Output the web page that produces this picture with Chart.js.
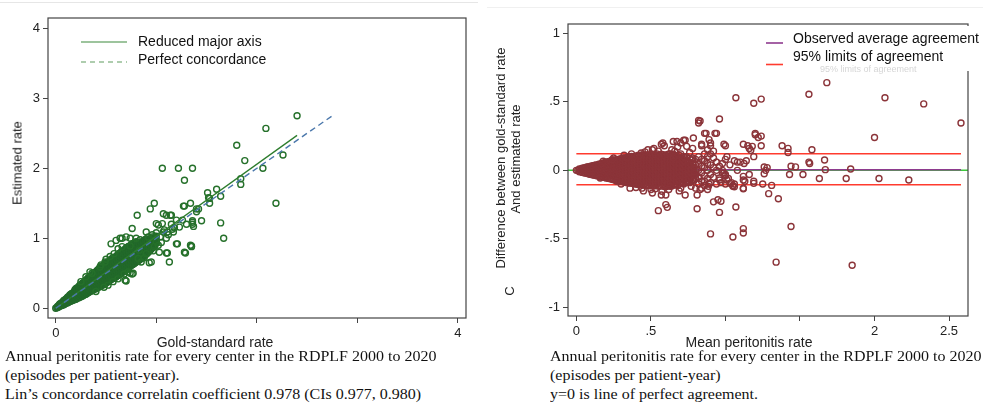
<!DOCTYPE html>
<html>
<head>
<meta charset="utf-8">
<script src="https://cdn.jsdelivr.net/npm/chart.js@4.4.0/dist/chart.umd.min.js"></script>
<style>
  body { margin:0; width:983px; height:403px; background:#fff; position:relative; overflow:hidden; font-family:"Liberation Sans", Arial, sans-serif; }
  canvas { position:absolute; top:0; }
  #leftChart { left:0; }
  #rightChart { left:480px; }
  .lbl { position:absolute; white-space:nowrap; color:#222; font-size:14px; transform:translate(-50%,-50%); }
  .rot { font-size:13px; transform:translate(-50%,-50%) rotate(-90deg); }
  .cap { position:absolute; white-space:nowrap; font-family:"Liberation Serif","Times New Roman",serif; font-size:16px; line-height:18px; color:#111; transform-origin:left center; transform:scaleY(.85); }
  .faint { position:absolute; background:#e6e6e6; }
</style>
</head>
<body>
<div class="faint" style="left:0;top:2px;width:478px;height:1px"></div>
<div class="faint" style="left:487px;top:7px;width:496px;height:1px;background:#f0f0f0"></div>
<canvas id="leftChart" width="480" height="350"></canvas>
<canvas id="rightChart" width="503" height="350"></canvas>

<div class="lbl rot" style="left:17px;top:163px">Estimated rate</div>
<div class="lbl" style="left:215px;top:342px">Gold-standard rate</div>
<div class="lbl rot" style="left:500px;top:158px">Difference between gold-standard rate</div>
<div class="lbl rot" style="left:515px;top:159px">And estimated rate</div>
<div class="lbl rot" style="left:509px;top:291px">C</div>
<div class="lbl" style="left:749px;top:342px">Mean peritonitis rate</div>

<div class="cap" style="left:5px;top:348px">Annual peritonitis rate for every center in the RDPLF 2000 to 2020</div>
<div class="cap" style="left:5px;top:367px">(episodes per patient-year).</div>
<div class="cap" style="left:5px;top:386px">Lin’s concordance correlatin coefficient 0.978 (CIs 0.977, 0.980)</div>
<div class="cap" style="left:550px;top:348px">Annual peritonitis rate for every center in the RDPLF 2000 to 2020</div>
<div class="cap" style="left:550px;top:367px">(episodes per patient-year)</div>
<div class="cap" style="left:550px;top:386px">y=0 is line of perfect agreement.</div>

<script>
const FONT = '"Liberation Sans", Arial, sans-serif';

// ---- left panel: gold-standard vs estimated rate ----
// dense part of the cloud: [gold, est, est, ...]
const leftCloud = [
  [0.00, 0.00], [0.02, 0.01, 0.03], [0.04, 0.03, 0.05, 0.06], [0.06, 0.04, 0.06, 0.08],
  [0.08, 0.05, 0.08, 0.10, 0.11], [0.10, 0.07, 0.09, 0.11, 0.13], [0.12, 0.08, 0.11, 0.13, 0.16],
  [0.14, 0.10, 0.12, 0.15, 0.17, 0.19], [0.16, 0.11, 0.14, 0.16, 0.19, 0.21], [0.18, 0.12, 0.15, 0.18, 0.20, 0.23],
  [0.20, 0.13, 0.17, 0.20, 0.22, 0.25, 0.28], [0.22, 0.15, 0.18, 0.22, 0.25, 0.28],
  [0.24, 0.16, 0.20, 0.23, 0.26, 0.29, 0.33], [0.26, 0.17, 0.21, 0.25, 0.28, 0.31, 0.35],
  [0.28, 0.19, 0.23, 0.27, 0.30, 0.34, 0.37], [0.30, 0.20, 0.25, 0.29, 0.32, 0.36, 0.40],
  [0.32, 0.22, 0.27, 0.31, 0.34, 0.38, 0.43], [0.34, 0.24, 0.28, 0.33, 0.36, 0.40, 0.45],
  [0.36, 0.25, 0.30, 0.35, 0.38, 0.42, 0.47], [0.38, 0.27, 0.32, 0.37, 0.40, 0.44, 0.50],
  [0.40, 0.28, 0.34, 0.38, 0.42, 0.47, 0.52], [0.42, 0.30, 0.35, 0.40, 0.45, 0.49, 0.55],
  [0.44, 0.31, 0.37, 0.42, 0.46, 0.51, 0.57], [0.46, 0.33, 0.39, 0.44, 0.48, 0.53, 0.60],
  [0.48, 0.34, 0.41, 0.46, 0.50, 0.55, 0.62], [0.50, 0.36, 0.43, 0.48, 0.52, 0.57, 0.64],
  [0.52, 0.38, 0.45, 0.50, 0.54, 0.59, 0.66], [0.54, 0.40, 0.46, 0.52, 0.56, 0.61, 0.68],
  [0.56, 0.42, 0.48, 0.54, 0.58, 0.63, 0.71], [0.58, 0.43, 0.50, 0.56, 0.60, 0.65, 0.72],
  [0.60, 0.45, 0.52, 0.58, 0.62, 0.67, 0.74], [0.62, 0.47, 0.54, 0.60, 0.64, 0.70, 0.77],
  [0.64, 0.49, 0.56, 0.62, 0.66, 0.72, 0.79], [0.66, 0.51, 0.58, 0.64, 0.68, 0.74, 0.81],
  [0.68, 0.53, 0.60, 0.66, 0.70, 0.76, 0.83], [0.70, 0.55, 0.62, 0.68, 0.72, 0.78, 0.86],
  [0.72, 0.57, 0.64, 0.70, 0.75, 0.80, 0.88], [0.74, 0.60, 0.66, 0.72, 0.77, 0.82, 0.89],
  [0.76, 0.62, 0.68, 0.74, 0.79, 0.85, 0.92], [0.78, 0.64, 0.70, 0.76, 0.81, 0.87, 0.93],
  [0.80, 0.66, 0.72, 0.78, 0.83, 0.89, 0.95], [0.82, 0.68, 0.75, 0.80, 0.85, 0.91],
  [0.84, 0.70, 0.77, 0.82, 0.87, 0.93, 0.98], [0.86, 0.72, 0.79, 0.84, 0.89, 0.95],
  [0.88, 0.75, 0.81, 0.86, 0.91, 0.97], [0.90, 0.77, 0.83, 0.88, 0.93, 0.99],
  [0.92, 0.80, 0.86, 0.91, 0.96], [0.94, 0.83, 0.89, 0.94, 0.99], [0.96, 0.86, 0.92, 0.97, 1.02],
  [0.98, 0.90, 0.95, 1.00], [1.00, 0.93, 0.98, 1.03],
  // in-between columns
  [0.01, 0.01], [0.03, 0.02, 0.04], [0.05, 0.04, 0.055, 0.07], [0.07, 0.05, 0.07, 0.09],
  [0.09, 0.06, 0.085, 0.105, 0.12], [0.11, 0.075, 0.10, 0.12, 0.145], [0.13, 0.09, 0.115, 0.14, 0.165],
  [0.15, 0.10, 0.13, 0.155, 0.18, 0.20], [0.17, 0.115, 0.145, 0.17, 0.195, 0.22],
  [0.19, 0.125, 0.16, 0.19, 0.21, 0.24, 0.26], [0.21, 0.14, 0.18, 0.21, 0.235, 0.265, 0.29],
  [0.23, 0.15, 0.19, 0.225, 0.255, 0.285, 0.31], [0.25, 0.165, 0.205, 0.24, 0.27, 0.30, 0.34],
  [0.27, 0.18, 0.22, 0.26, 0.29, 0.325, 0.36], [0.29, 0.195, 0.24, 0.28, 0.31, 0.345, 0.385],
  [0.31, 0.21, 0.26, 0.30, 0.33, 0.37, 0.41], [0.33, 0.23, 0.275, 0.32, 0.35, 0.39, 0.44],
  [0.35, 0.245, 0.29, 0.34, 0.37, 0.41, 0.46], [0.37, 0.26, 0.31, 0.36, 0.39, 0.43, 0.485],
  [0.39, 0.275, 0.33, 0.375, 0.41, 0.455, 0.51], [0.41, 0.29, 0.345, 0.39, 0.435, 0.48, 0.535],
  [0.43, 0.305, 0.36, 0.41, 0.455, 0.50, 0.56], [0.45, 0.32, 0.38, 0.43, 0.47, 0.52, 0.585],
  [0.47, 0.335, 0.40, 0.45, 0.49, 0.54, 0.61], [0.49, 0.35, 0.42, 0.47, 0.51, 0.56, 0.63],
  [0.51, 0.37, 0.44, 0.49, 0.53, 0.58, 0.65], [0.53, 0.39, 0.455, 0.51, 0.55, 0.60, 0.67],
  [0.55, 0.41, 0.47, 0.53, 0.57, 0.62, 0.695], [0.57, 0.425, 0.49, 0.55, 0.59, 0.64, 0.715],
  [0.59, 0.44, 0.51, 0.57, 0.61, 0.66, 0.73], [0.61, 0.46, 0.53, 0.59, 0.63, 0.685, 0.755],
  [0.63, 0.48, 0.55, 0.61, 0.65, 0.71, 0.78], [0.65, 0.50, 0.57, 0.63, 0.67, 0.73, 0.80],
  [0.67, 0.52, 0.59, 0.65, 0.69, 0.75, 0.82], [0.69, 0.54, 0.61, 0.67, 0.71, 0.77, 0.845],
  [0.71, 0.56, 0.63, 0.69, 0.735, 0.79, 0.87], [0.73, 0.585, 0.65, 0.71, 0.76, 0.81, 0.885],
  [0.75, 0.61, 0.67, 0.73, 0.78, 0.835, 0.905], [0.77, 0.63, 0.69, 0.75, 0.80, 0.86, 0.925],
  [0.79, 0.65, 0.71, 0.77, 0.82, 0.88, 0.94], [0.81, 0.67, 0.735, 0.79, 0.84, 0.90],
  [0.83, 0.69, 0.76, 0.81, 0.86, 0.92], [0.85, 0.71, 0.78, 0.83, 0.88, 0.94],
  [0.87, 0.735, 0.80, 0.85, 0.90, 0.96], [0.89, 0.76, 0.82, 0.87, 0.92, 0.98],
  [0.91, 0.785, 0.845, 0.895, 0.945], [0.93, 0.815, 0.875, 0.925, 0.975],
  [0.95, 0.845, 0.905, 0.955, 1.005], [0.97, 0.88, 0.935, 0.985], [0.99, 0.915, 0.965, 1.015]
];
// scattered centres: [gold, est]
const leftScatter = [
  [2.40, 2.75], [2.09, 2.57], [1.80, 2.33], [1.88, 2.11], [2.26, 2.19], [2.06, 2.00], [2.19, 1.50],
  [1.06, 2.00], [1.22, 2.00], [1.36, 2.00], [1.28, 1.83], [1.84, 1.85], [1.84, 1.77],
  [1.51, 1.65], [1.60, 1.70], [1.64, 1.60], [1.52, 1.58], [1.53, 1.50], [1.34, 1.50], [1.28, 1.46],
  [0.98, 1.50], [0.94, 1.42], [0.81, 1.33], [1.42, 1.42], [1.40, 1.38], [1.45, 1.25], [1.64, 1.22], [1.67, 1.00],
  [1.36, 1.23], [1.36, 1.20], [1.21, 0.92], [1.34, 0.90], [1.35, 0.88], [1.28, 0.80], [1.13, 0.66], [0.95, 0.66],
  [0.69, 0.40], [0.76, 0.49], [0.68, 0.49], [0.64, 1.00], [0.66, 1.00], [0.76, 1.14],
  [1.07, 1.35], [1.14, 1.33], [1.06, 1.21], [1.16, 1.13], [1.23, 1.16], [1.26, 1.26], [1.11, 1.09], [1.20, 1.26],
  [0.54, 0.74], [0.74, 1.00], [0.70, 0.39], [0.74, 0.50], [0.77, 0.50], [0.93, 0.65], [1.29, 0.79], [1.35, 0.89],
  [1.20, 0.92], [1.11, 0.79], [1.02, 1.19], [1.15, 1.33], [1.10, 1.33], [1.00, 1.21], [1.07, 1.09], [1.17, 1.09],
  [1.30, 1.20], [1.37, 1.17], [1.36, 1.25], [1.27, 1.46], [1.40, 1.42], [1.53, 1.57], [0.49, 0.66], [0.82, 0.71],
  [0.83, 0.83], [0.60, 0.97], [0.70, 1.02], [0.90, 1.09], [1.00, 0.95], [0.74, 0.89], [0.44, 0.59], [0.34, 0.52],
  [0.55, 0.92], [1.03, 0.80], [1.10, 0.79], [0.96, 1.05], [1.00, 1.08], [1.04, 1.02], [1.08, 1.12], [1.12, 1.05],
  [1.05, 0.94], [0.98, 0.88], [1.02, 0.90], [1.15, 1.20], [1.18, 1.15], [1.10, 1.00], [0.92, 1.02], [0.88, 0.72],
  [0.90, 0.78], [0.97, 0.82], [0.52, 0.33], [0.62, 0.42], [0.58, 0.78], [0.45, 0.62],
  [0.30, 0.45], [0.40, 0.24], [0.50, 0.70], [0.57, 0.38], [0.66, 0.88], [0.72, 0.52], [0.80, 1.00],
  [0.85, 0.66], [0.62, 0.85], [0.48, 0.30], [0.36, 0.50], [0.25, 0.38]
];
const rmaLine = [[0, 0], [2.40, 2.47]];
const concordanceLine = [[0, 0], [2.75, 2.75]];
const leftXTicks = [0, 1, 2, 3, 4];
const leftXLabels = ['0', '', '', '', '4'];
const leftYTicks = [0, 1, 2, 3, 4];
const leftYLabels = ['0', '1', '2', '3', '4'];

// ---- right panel: Bland-Altman ----
// dense part: [mean, diff, diff, ...]
const baCloud = [
  [0.00, 0.0], [0.02, -0.01, 0.01], [0.04, -0.015, 0.0, 0.015], [0.06, -0.02, 0.0, 0.02],
  [0.08, -0.025, 0.0, 0.025], [0.10, -0.03, -0.01, 0.01, 0.03], [0.12, -0.035, -0.012, 0.012, 0.035],
  [0.14, -0.04, -0.015, 0.01, 0.035], [0.16, -0.045, -0.02, 0.0, 0.02, 0.045],
  [0.18, -0.05, -0.025, 0.0, 0.025, 0.05], [0.20, -0.055, -0.03, -0.005, 0.02, 0.045, 0.06],
  [0.22, -0.06, -0.035, -0.01, 0.015, 0.04, 0.065], [0.24, -0.065, -0.04, -0.015, 0.01, 0.035, 0.06, 0.07],
  [0.26, -0.07, -0.045, -0.02, 0.005, 0.03, 0.055, 0.075], [0.28, -0.075, -0.05, -0.025, 0.0, 0.025, 0.05, 0.08],
  [0.30, -0.08, -0.055, -0.03, -0.005, 0.02, 0.045, 0.07, 0.085],
  [0.32, -0.085, -0.06, -0.035, -0.01, 0.015, 0.04, 0.065, 0.09],
  [0.34, -0.09, -0.065, -0.04, -0.015, 0.01, 0.035, 0.06, 0.09],
  [0.36, -0.09, -0.065, -0.04, -0.015, 0.01, 0.035, 0.06, 0.085, 0.1],
  [0.38, -0.095, -0.07, -0.045, -0.02, 0.005, 0.03, 0.055, 0.08, 0.1],
  [0.40, -0.1, -0.075, -0.05, -0.025, 0.0, 0.025, 0.05, 0.075, 0.1],
  [0.42, -0.1, -0.075, -0.05, -0.025, 0.0, 0.025, 0.05, 0.075, 0.105],
  [0.44, -0.105, -0.08, -0.055, -0.03, -0.005, 0.02, 0.045, 0.07, 0.095, 0.11],
  [0.46, -0.1, -0.075, -0.05, -0.025, 0.0, 0.025, 0.05, 0.075, 0.1],
  [0.48, -0.11, -0.085, -0.06, -0.035, -0.01, 0.015, 0.04, 0.065, 0.09, 0.11],
  [0.50, -0.105, -0.08, -0.055, -0.03, -0.005, 0.02, 0.045, 0.07, 0.095, 0.115],
  [0.52, -0.11, -0.085, -0.06, -0.035, -0.01, 0.015, 0.04, 0.065, 0.09, 0.11],
  [0.54, -0.1, -0.075, -0.05, -0.025, 0.0, 0.025, 0.05, 0.075, 0.1, 0.12],
  [0.56, -0.115, -0.09, -0.065, -0.04, -0.015, 0.01, 0.035, 0.06, 0.085, 0.11],
  [0.58, -0.11, -0.085, -0.06, -0.035, -0.01, 0.015, 0.04, 0.065, 0.09, 0.115],
  [0.60, -0.12, -0.09, -0.065, -0.04, -0.015, 0.01, 0.035, 0.06, 0.085, 0.11],
  [0.62, -0.11, -0.085, -0.06, -0.035, -0.01, 0.015, 0.04, 0.065, 0.09, 0.12],
  [0.64, -0.115, -0.09, -0.06, -0.03, 0.0, 0.03, 0.06, 0.09, 0.115],
  [0.66, -0.1, -0.07, -0.04, -0.01, 0.02, 0.05, 0.08, 0.11],
  [0.68, -0.11, -0.08, -0.05, -0.02, 0.01, 0.04, 0.07, 0.1],
  [0.70, -0.09, -0.06, -0.03, 0.0, 0.03, 0.06, 0.09, 0.12],
  [0.72, -0.1, -0.07, -0.04, -0.01, 0.02, 0.05, 0.08],
  [0.74, -0.08, -0.05, -0.02, 0.01, 0.04, 0.07, 0.1],
  [0.76, -0.09, -0.06, -0.03, 0.0, 0.03, 0.06],
  [0.78, -0.07, -0.04, -0.01, 0.02, 0.05, 0.09],
  [0.80, -0.06, -0.03, 0.0, 0.04, 0.08],
  [0.82, -0.1, -0.05, 0.0, 0.05, 0.1], [0.84, -0.08, -0.02, 0.03, 0.08],
  [0.86, -0.11, -0.04, 0.02, 0.07, 0.12], [0.88, -0.06, 0.0, 0.05, 0.1],
  [0.90, -0.09, -0.03, 0.04], [0.92, -0.05, 0.02], [0.94, -0.1, 0.0, 0.06], [0.96, -0.07],
  [0.98, -0.02, 0.05], [1.00, -0.04, 0.08],
  // in-between columns
  [0.01, 0.0], [0.03, -0.008, 0.008], [0.05, -0.018, 0.0, 0.018], [0.07, -0.022, -0.005, 0.012, 0.025],
  [0.09, -0.028, -0.01, 0.01, 0.028], [0.11, -0.032, -0.01, 0.012, 0.034],
  [0.13, -0.038, -0.014, 0.008, 0.03, 0.04], [0.15, -0.042, -0.018, 0.005, 0.028, 0.045],
  [0.17, -0.048, -0.022, 0.002, 0.027, 0.05], [0.19, -0.052, -0.028, -0.004, 0.02, 0.045, 0.058],
  [0.21, -0.058, -0.032, -0.008, 0.018, 0.042, 0.062], [0.23, -0.062, -0.038, -0.012, 0.012, 0.038, 0.066],
  [0.25, -0.068, -0.042, -0.018, 0.008, 0.032, 0.058, 0.072],
  [0.27, -0.072, -0.048, -0.022, 0.002, 0.028, 0.052, 0.078],
  [0.29, -0.078, -0.052, -0.028, -0.002, 0.022, 0.048, 0.074, 0.082],
  [0.31, -0.082, -0.058, -0.032, -0.008, 0.018, 0.042, 0.068, 0.088],
  [0.33, -0.088, -0.062, -0.038, -0.012, 0.012, 0.038, 0.062, 0.09],
  [0.35, -0.092, -0.068, -0.042, -0.018, 0.008, 0.032, 0.058, 0.082, 0.098],
  [0.37, -0.095, -0.07, -0.045, -0.02, 0.005, 0.03, 0.055, 0.08, 0.102],
  [0.39, -0.098, -0.072, -0.048, -0.022, 0.002, 0.028, 0.052, 0.078, 0.1],
  [0.41, -0.102, -0.078, -0.052, -0.028, -0.002, 0.022, 0.048, 0.072, 0.098, 0.108],
  [0.43, -0.105, -0.08, -0.055, -0.03, -0.005, 0.02, 0.045, 0.07, 0.095, 0.11],
  [0.45, -0.108, -0.082, -0.058, -0.032, -0.008, 0.018, 0.042, 0.068, 0.092, 0.112],
  [0.47, -0.108, -0.082, -0.058, -0.032, -0.008, 0.018, 0.042, 0.068, 0.092, 0.112],
  [0.49, -0.112, -0.088, -0.062, -0.038, -0.012, 0.012, 0.038, 0.062, 0.088, 0.112],
  [0.51, -0.11, -0.085, -0.06, -0.035, -0.01, 0.015, 0.04, 0.065, 0.09, 0.115],
  [0.53, -0.112, -0.088, -0.062, -0.038, -0.012, 0.012, 0.038, 0.062, 0.088, 0.115],
  [0.55, -0.115, -0.09, -0.065, -0.04, -0.015, 0.01, 0.035, 0.06, 0.085, 0.11],
  [0.57, -0.112, -0.088, -0.062, -0.038, -0.012, 0.012, 0.038, 0.062, 0.088, 0.118],
  [0.59, -0.118, -0.092, -0.068, -0.042, -0.018, 0.008, 0.032, 0.058, 0.082, 0.108],
  [0.61, -0.115, -0.088, -0.062, -0.038, -0.012, 0.012, 0.038, 0.062, 0.088, 0.115],
  [0.63, -0.112, -0.085, -0.058, -0.032, -0.005, 0.02, 0.045, 0.075, 0.1, 0.12],
  [0.65, -0.108, -0.08, -0.055, -0.025, 0.005, 0.035, 0.065, 0.095, 0.118],
  [0.67, -0.105, -0.075, -0.045, -0.015, 0.015, 0.045, 0.075, 0.105],
  [0.69, -0.1, -0.07, -0.04, -0.01, 0.02, 0.05, 0.08, 0.11],
  [0.71, -0.095, -0.065, -0.035, -0.005, 0.025, 0.055, 0.085],
  [0.73, -0.09, -0.06, -0.03, 0.0, 0.03, 0.06, 0.09],
  [0.75, -0.085, -0.055, -0.025, 0.005, 0.035, 0.065],
  [0.77, -0.08, -0.05, -0.02, 0.01, 0.04, 0.075],
  [0.79, -0.07, -0.04, -0.01, 0.02, 0.05]
];
// scattered centres: [mean, diff]
const baScatter = [
  [1.07, 0.53], [1.19, 0.49], [1.24, 0.52], [1.56, 0.555], [1.68, 0.64], [2.07, 0.53], [2.33, 0.485],
  [2.58, 0.345], [2.00, 0.24], [0.82, 0.365], [0.82, 0.345], [0.96, 0.375], [0.87, 0.27], [0.94, 0.27],
  [0.89, 0.224], [1.20, 0.27], [1.22, 0.24], [1.24, 0.18], [1.38, 0.18], [1.42, 0.16], [1.42, 0.13],
  [1.58, 0.15], [1.665, 0.075], [1.56, 0.06], [1.565, 0.05], [1.67, 0.005], [1.84, 0.01], [1.81, -0.06],
  [1.63, -0.06], [1.52, -0.03], [2.03, -0.06], [2.23, -0.07], [1.85, -0.693], [1.34, -0.67], [1.44, -0.41],
  [1.12, -0.425], [1.12, -0.457], [1.05, -0.486], [0.90, -0.464], [1.07, -0.267], [0.96, -0.307],
  [0.97, -0.226], [0.95, -0.215], [0.92, -0.23], [0.81, -0.28], [0.55, -0.294], [0.61, -0.27], [0.60, -0.25],
  [0.57, -0.18], [0.73, -0.18], [0.81, -0.18], [1.355, -0.207], [1.29, -0.17], [1.31, -0.11], [1.25, -0.10],
  [1.19, -0.095], [1.12, -0.135], [1.13, -0.08], [1.16, -0.03], [1.26, -0.025], [1.28, 0.02], [1.26, 0.024],
  [1.43, -0.03], [1.44, 0.03], [1.47, 0.025], [1.08, 0.0], [1.06, 0.07], [1.08, 0.06], [1.10, 0.06],
  [1.125, 0.05], [1.14, 0.07], [1.17, 0.146], [1.15, 0.18], [1.16, 0.16], [1.00, 0.18], [0.99, 0.19],
  [0.90, 0.18], [0.84, 0.18], [0.72, 0.22], [0.70, 0.20], [0.65, 0.21], [0.59, 0.18], [0.58, 0.20], [0.51, 0.15],
  [1.06, -0.10], [1.06, -0.12], [1.03, -0.095], [1.00, -0.10], [0.97, -0.09], [1.12, -0.07], [0.89, -0.10],
  [0.88, -0.14], [0.84, -0.13], [0.79, -0.07], [0.37, 0.12], [0.435, 0.127], [0.48, 0.15], [0.57, 0.19],
  [0.64, 0.15], [0.675, 0.21], [0.73, 0.22], [0.785, 0.236], [0.86, 0.27], [0.93, 0.27], [0.83, 0.36],
  [0.65, 0.09], [0.72, 0.10], [0.775, 0.078], [0.74, 0.175], [0.84, 0.19], [0.90, 0.20], [0.92, 0.14],
  [1.01, 0.10], [1.03, 0.04], [0.99, -0.02], [0.96, -0.056], [1.01, -0.07], [1.05, -0.117], [0.886, -0.117],
  [0.83, -0.14], [0.77, -0.117], [0.70, -0.13], [0.63, -0.117], [0.574, -0.153], [0.50, -0.14], [0.44, -0.13],
  [0.36, -0.13], [0.60, -0.18], [0.51, -0.165], [0.42, -0.105], [0.27, -0.08], [0.16, -0.056], [0.18, 0.066],
  [0.24, 0.078], [0.34, 0.09], [1.12, -0.044], [1.12, -0.13], [1.19, -0.08], [1.20, 0.26], [1.24, 0.25],
  [1.12, 0.19], [1.18, 0.175], [1.19, 0.10], [1.27, 0.0], [0.90, 0.12], [0.92, 0.09], [0.94, 0.06],
  [0.96, 0.03], [0.98, 0.0], [1.00, -0.03], [1.02, -0.06], [1.04, -0.09], [1.05, -0.11],
  [0.32, 0.11], [0.40, -0.125], [0.46, 0.135], [0.53, -0.135], [0.55, 0.14], [0.62, -0.14], [0.66, 0.14],
  [0.69, -0.15], [0.76, 0.13], [0.80, -0.13], [0.52, 0.16], [0.68, 0.17], [0.45, -0.15], [0.30, -0.10],
  [0.25, 0.09], [0.78, 0.16], [0.86, -0.08], [0.88, 0.15]
];
const agreementMean = 0.004;
const agreementLimits = [0.122, -0.105];
const agreementSpan = [0, 2.58];
const rightXTicks = [0, 0.5, 1, 1.5, 2, 2.5];
const rightXLabels = ['0', '.5', '', '', '2', '2.5'];
const rightYTicks = [-1, -0.5, 0, 0.5, 1];
const rightYLabels = ['-1', '-.5', '0', '.5', '1'];

function cloudPoints(rows) {
  const out = [];
  rows.forEach(r => { for (let i = 1; i < r.length; i++) out.push({ x: r[0], y: r[i] }); });
  return out;
}
const asPoints = list => list.map(p => ({ x: p[0], y: p[1] }));

function axis(min, max, ticks, labels, fitProp, fitSize) {
  return {
    type: 'linear', min, max,
    afterBuildTicks: s => { s.ticks = ticks.map(v => ({ value: v })); },
    afterFit: s => { s[fitProp] = fitSize; },
    ticks: { callback: (v, i) => labels[i], font: { size: 13, family: FONT }, color: '#222',
             padding: 3, maxRotation: 0, autoSkip: false },
    grid: { drawOnChartArea: false, drawTicks: true, tickLength: 5, color: '#444', lineWidth: 1 },
    border: { display: false }
  };
}

function lineSet(pts, color, width, dash) {
  return { data: asPoints(pts), showLine: true, pointRadius: 0, borderColor: color,
           borderWidth: width, borderDash: dash || [], fill: false };
}
function pointSet(pts, color) {
  return { data: pts, showLine: false, pointRadius: 3, pointBorderWidth: 1.4,
           pointBackgroundColor: 'rgba(0,0,0,0)', pointBorderColor: color, borderColor: color };
}

// frame round the plot region
const framePlugin = {
  id: 'frame',
  afterDatasetsDraw(chart) {
    const a = chart.chartArea, c = chart.ctx;
    c.save();
    c.strokeStyle = '#444';
    c.lineWidth = 1.2;
    c.strokeRect(a.left, a.top, a.right - a.left, a.bottom - a.top);
    c.restore();
  }
};

const leftLegend = {
  id: 'leftLegend',
  afterDraw(chart) {
    const c = chart.ctx;
    c.save();
    c.lineWidth = 1.2;
    c.strokeStyle = '#3d8a3d';
    c.beginPath(); c.moveTo(81, 42); c.lineTo(127, 42); c.stroke();
    c.strokeStyle = '#5f9c5f';
    c.setLineDash([5, 4]);
    c.beginPath(); c.moveTo(81, 62); c.lineTo(127, 62); c.stroke();
    c.setLineDash([]);
    c.fillStyle = '#111';
    c.font = '14px ' + FONT;
    c.textBaseline = 'middle';
    c.fillText('Reduced major axis', 138, 42);
    c.fillText('Perfect concordance', 138, 60);
    c.restore();
  }
};

const rightLegend = {
  id: 'rightLegend',
  afterDraw(chart) {
    const c = chart.ctx;
    c.save();
    c.fillStyle = '#fff';
    c.fillRect(282, 26, 221, 45);
    c.lineWidth = 1.6;
    c.strokeStyle = '#8e3a8e';
    c.beginPath(); c.moveTo(286, 43); c.lineTo(303, 43); c.stroke();
    c.strokeStyle = '#ff3b2e';
    c.beginPath(); c.moveTo(286, 64.5); c.lineTo(303, 64.5); c.stroke();
    c.fillStyle = '#111';
    c.font = '14px ' + FONT;
    c.textBaseline = 'middle';
    c.fillText('Observed average agreement', 313, 39.5);
    c.fillText('95% limits of agreement', 313, 57);
    c.fillStyle = '#d6d6d6';
    c.font = '9px ' + FONT;
    c.fillText('95% limits of agreement', 340, 70);
    c.restore();
  }
};

const common = {
  responsive: false, animation: false,
  plugins: { legend: { display: false }, tooltip: { enabled: false } }
};

new Chart(document.getElementById('leftChart'), {
  type: 'scatter',
  data: {
    datasets: [
      lineSet(concordanceLine, '#4a77ab', 1.4, [6, 4]),
      lineSet(rmaLine, '#2e7d2e', 1.3),
      pointSet(asPoints(leftScatter), '#25702a'),
      pointSet(cloudPoints(leftCloud), '#22692a')
    ]
  },
  options: Object.assign({}, common, {
    layout: { padding: { left: 0, top: 18, right: 14, bottom: 0 } },
    scales: {
      x: axis(-0.077, 4.08, leftXTicks, leftXLabels, 'height', 32),
      y: axis(-0.139, 4.147, leftYTicks, leftYLabels, 'width', 48)
    }
  }),
  plugins: [framePlugin, leftLegend]
});

new Chart(document.getElementById('rightChart'), {
  type: 'scatter',
  data: {
    datasets: [
      pointSet(asPoints(baScatter), '#8b3439'),
      pointSet(cloudPoints(baCloud), '#8b3439'),
      lineSet(agreementSpan.map(x => [x, agreementMean]), '#8e3a8e', 1.4),
      lineSet(agreementSpan.map(x => [x, agreementLimits[0]]), '#ff3b2e', 1.5),
      lineSet(agreementSpan.map(x => [x, agreementLimits[1]]), '#ff3b2e', 1.5),
      lineSet([[-0.056, 0], [2.627, 0]], '#3cc83c', 1.5)
    ]
  },
  options: Object.assign({}, common, {
    layout: { padding: { left: 0, top: 24, right: 15, bottom: 0 } },
    scales: {
      x: axis(-0.056, 2.627, rightXTicks, rightXLabels, 'height', 34),
      y: axis(-1.063, 1.068, rightYTicks, rightYLabels, 'width', 88)
    }
  }),
  plugins: [framePlugin, rightLegend]
});
</script>
</body>
</html>
